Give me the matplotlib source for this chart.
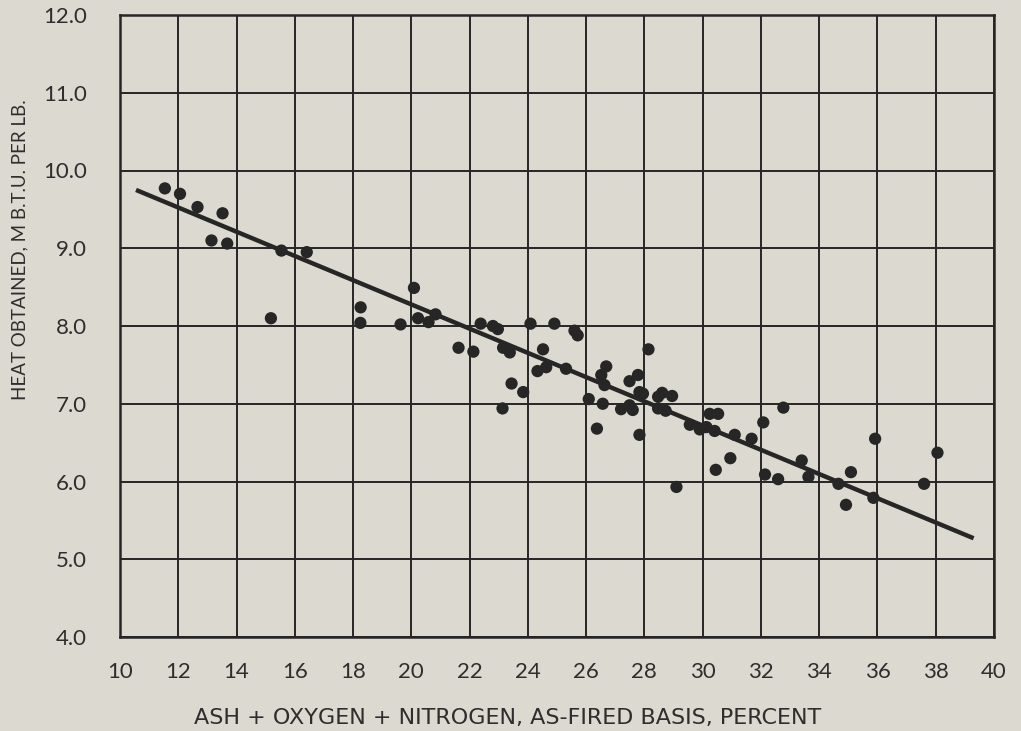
import matplotlib
matplotlib.use("Agg")
import matplotlib.pyplot as plt
from matplotlib.ticker import FixedLocator

# ---- data ----
ash_oxy_n = [11.54, 12.06, 12.66, 13.52, 13.14, 13.68, 15.54, 16.41, 15.18,
             18.26, 18.25, 19.63, 20.09, 20.23, 20.59, 20.83, 21.62, 22.13,
             22.38, 22.80, 22.97, 24.09, 23.15, 23.38, 24.52, 24.33, 23.44,
             23.84, 23.13, 24.63, 24.91, 25.60, 25.71, 25.31, 26.37, 26.09,
             26.57, 26.69, 26.52, 26.63, 27.20, 27.49, 27.78, 27.60, 27.49,
             27.83, 27.95, 27.83, 28.14, 28.47, 28.61, 28.95, 28.47, 28.73,
             29.10, 29.56, 29.90, 30.24, 30.53, 30.13, 30.41, 30.45, 30.95,
             31.10, 31.68, 32.08, 32.14, 32.59, 32.77, 33.40, 33.63, 34.66,
             35.09, 34.92, 35.92, 35.86, 37.60, 38.06]
heat_obtained = [9.77, 9.70, 9.53, 9.45, 9.10, 9.06, 8.97, 8.95, 8.10,
                 8.24, 8.04, 8.02, 8.49, 8.10, 8.05, 8.15, 7.72, 7.67,
                 8.03, 8.00, 7.96, 8.03, 7.72, 7.66, 7.70, 7.42, 7.26,
                 7.15, 6.94, 7.47, 8.03, 7.94, 7.88, 7.45, 6.68, 7.06,
                 7.00, 7.48, 7.37, 7.24, 6.93, 7.29, 7.37, 6.92, 6.98,
                 7.15, 7.13, 6.60, 7.70, 7.09, 7.14, 7.10, 6.94, 6.91,
                 5.93, 6.73, 6.67, 6.87, 6.87, 6.70, 6.65, 6.15, 6.30,
                 6.60, 6.55, 6.76, 6.09, 6.03, 6.95, 6.27, 6.06, 5.97,
                 6.12, 5.70, 6.55, 5.79, 5.97, 6.37]
fit_x = [10.55, 39.30]
fit_y = [9.75, 5.27]

x_ticks = [10, 12, 14, 16, 18, 20, 22, 24, 26, 28, 30, 32, 34, 36, 38, 40]
y_ticks = [4.0, 5.0, 6.0, 7.0, 8.0, 9.0, 10.0, 11.0, 12.0]
x_label = "ASH + OXYGEN + NITROGEN, AS-FIRED BASIS, PERCENT"
y_label = "HEAT OBTAINED, M B.T.U. PER LB."

# ---- style ----
BG = "#dbd9d0"
INK = "#262626"
TXT = "#2e2e2e"
plt.rcParams["font.family"] = ["Lato", "DejaVu Sans"]

fig = plt.figure(figsize=(10.21, 7.31), dpi=100, facecolor=BG)
ax = fig.add_axes([120 / 1021, 1 - 637 / 731, (994 - 120) / 1021, (637 - 15) / 731])
ax.set_facecolor(BG)

ax.set_xlim(10, 40)
ax.set_ylim(4, 12)
ax.xaxis.set_major_locator(FixedLocator(x_ticks))
ax.yaxis.set_major_locator(FixedLocator(y_ticks))
ax.set_xticklabels([str(t) for t in x_ticks])
ax.set_yticklabels([f"{t:.1f}" for t in y_ticks])
ax.tick_params(length=0, labelsize=16, colors=TXT)
ax.tick_params(axis="y", pad=24)
ax.tick_params(axis="x", pad=18)

ax.grid(True, color=INK, linewidth=1.4)
ax.set_axisbelow(True)
for s in ax.spines.values():
    s.set_color(INK)
    s.set_linewidth(1.8)

ax.plot(fit_x, fit_y, color=INK, linewidth=3.2, solid_capstyle="butt", zorder=3)
ax.scatter(ash_oxy_n, heat_obtained, s=78, color=INK, edgecolors="none", zorder=4)

fig.text(508 / 1021, 1 - 718 / 731, x_label, ha="center", va="center",
         fontsize=16, color=TXT, family="DejaVu Sans")
fig.text(20 / 1021, 1 - 250 / 731, y_label, ha="center", va="center",
         rotation=90, fontsize=13.5, color=TXT)

fig.savefig("out.png", dpi=100, facecolor=BG)
